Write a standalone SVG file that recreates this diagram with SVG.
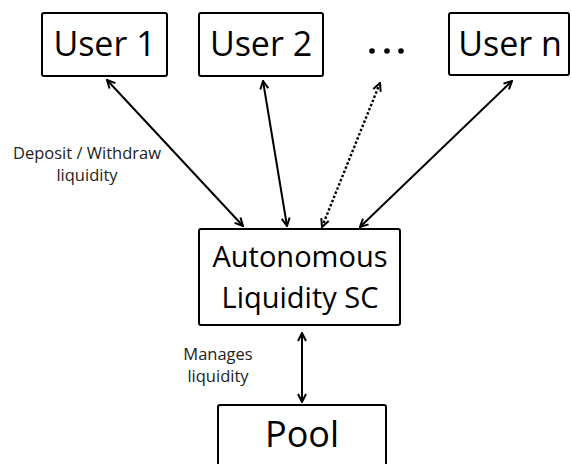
<svg xmlns="http://www.w3.org/2000/svg" width="571" height="464" viewBox="0 0 571 464">
<style>
.box{fill:#fff;stroke:#000;stroke-width:2;}
.t{font-family:"Open Sans","Noto Sans",sans-serif;fill:#000;text-anchor:middle;}
.big{font-size:34px;}
.mid{font-size:29px;}
.lbl{font-size:16.5px;fill:#222;}
.c{stroke:#000;stroke-width:2;fill:none;marker-start:url(#ah);marker-end:url(#ah);}
.dot{stroke-dasharray:2.5 2;stroke-width:2.4;}
</style>
<defs>
<marker id="ah" viewBox="0 0 10 10" refX="9" refY="5" markerWidth="10" markerHeight="10" markerUnits="userSpaceOnUse" orient="auto-start-reverse">
<path d="M1,1 L9,5 L1,9" fill="none" stroke="#000" stroke-width="2"/>
</marker>
</defs>
<rect width="571" height="464" fill="#fff"/>
<g id="connectors">
<line class="c" x1="107" y1="80" x2="243" y2="226"/>
<line class="c" x1="263" y1="81" x2="287" y2="226"/>
<line class="c dot" x1="380" y1="83" x2="322" y2="227"/>
<line class="c" x1="512" y1="81" x2="360" y2="227"/>
<line class="c" x1="302" y1="333" x2="302" y2="402"/>
</g>
<g id="user1"><rect class="box" x="42" y="13" width="125" height="63" rx="2"/><text class="t big" x="104.5" y="56">User 1</text></g>
<g id="user2"><rect class="box" x="199" y="13" width="124" height="63" rx="2"/><text class="t big" x="261" y="56">User 2</text></g>
<g id="ellipsis"><circle cx="372" cy="51" r="2.8"/><circle cx="387" cy="51" r="2.8"/><circle cx="401" cy="51" r="2.8"/></g>
<g id="usern"><rect class="box" x="449" y="13" width="120" height="62" rx="2"/><text class="t big" x="510" y="56">User n</text></g>
<g id="sc"><rect class="box" x="199" y="229" width="201" height="96" rx="2"/><text class="t mid" x="300" y="267">Autonomous</text><text class="t mid" x="300" y="308">Liquidity SC</text></g>
<g id="pool"><rect class="box" x="218" y="405" width="168" height="70" rx="2"/><text class="t" style="font-size:36px" x="302" y="447">Pool</text></g>
<g id="labels">
<text class="t lbl" x="87" y="159">Deposit / Withdraw</text>
<text class="t lbl" x="87" y="181">liquidity</text>
<text class="t lbl" x="218" y="360">Manages</text>
<text class="t lbl" x="218" y="382">liquidity</text>
</g>
</svg>
